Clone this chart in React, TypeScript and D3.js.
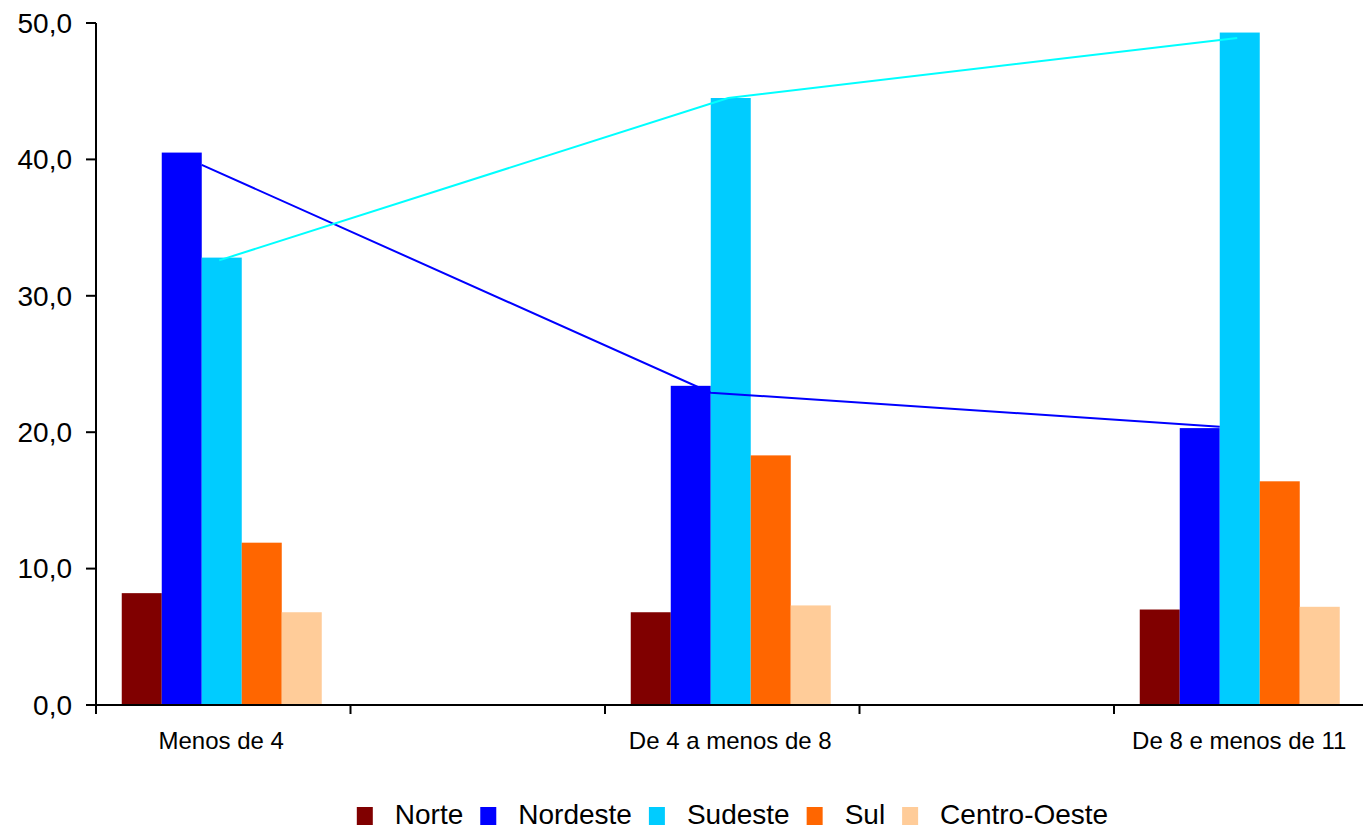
import React, { useEffect, useRef } from "react";
import * as d3 from "d3";

const categories = ["Menos de 4", "De 4 a menos de 8", "De 8 e menos de 11"];
const seriesNames = ["Norte", "Nordeste", "Sudeste", "Sul", "Centro-Oeste"];
const seriesColors = ["#800000", "#0000FF", "#00CCFF", "#FF6600", "#FFCC99"];
const norte = [8.2, 6.8, 7.0];
const nordeste = [40.5, 23.4, 20.3];
const sudeste = [32.8, 44.5, 49.3];
const sul = [11.9, 18.3, 16.4];
const centroOeste = [6.8, 7.3, 7.2];
const seriesValues = [norte, nordeste, sudeste, sul, centroOeste];
const nordesteLine = [39.6, 22.9, 20.4];
const sudesteLine = [32.6, 44.5, 48.9];
const yTicks = [0, 10, 20, 30, 40, 50];

export default function App() {
  const ref = useRef<SVGSVGElement>(null);
  useEffect(() => {
    const svg = d3.select(ref.current);
    svg.selectAll("*").remove();
    const W = 1363;
    const left = 96, slotW = 254.5, nSlots = 5;
    const y0 = 705, yTop = 23;
    const font = "'Liberation Sans', Arial, sans-serif";

    const x = d3.scaleBand<number>().domain(d3.range(nSlots)).range([left, left + slotW * nSlots]);
    const groupW = 200;
    const pOuter = (slotW / (groupW / seriesNames.length) - seriesNames.length) / 2;
    const xs = d3.scaleBand<string>().domain(seriesNames).range([0, slotW]).paddingInner(0).paddingOuter(pOuter);
    const y = d3.scaleLinear().domain([0, 50]).range([y0, yTop]);
    const slotOf = (i: number) => i * 2;

    // bars
    seriesNames.forEach((s, si) => {
      svg.append("g").selectAll("rect").data(seriesValues[si]).join("rect")
        .attr("x", (_d, i) => (x(slotOf(i)) as number) + (xs(s) as number) - 1.5)
        .attr("y", (d) => y(d))
        .attr("width", xs.bandwidth())
        .attr("height", (d) => y(0) - y(d))
        .attr("fill", seriesColors[si]);
    });

    // lines
    const lineGen = d3.line<[number, number]>().x((d) => d[0]).y((d) => d[1]);
    const nordPts: [number, number][] = nordesteLine.map((v, i) => [
      (x(slotOf(i)) as number) + (xs("Nordeste") as number) + xs.bandwidth() - 1.5, y(v)]);
    const sudPts: [number, number][] = sudesteLine.map((v, i) => [
      (x(slotOf(i)) as number) + (xs("Sudeste") as number) + xs.bandwidth() / 2 - 4, y(v)]);
    svg.append("path").attr("d", lineGen(nordPts)).attr("fill", "none").attr("stroke", "#0000FF").attr("stroke-width", 2);
    svg.append("path").attr("d", lineGen(sudPts)).attr("fill", "none").attr("stroke", "#00FFFF").attr("stroke-width", 2);

    // y axis
    svg.append("line").attr("x1", left).attr("x2", left).attr("y1", yTop).attr("y2", y0 + 8)
      .attr("stroke", "#000").attr("stroke-width", 2);
    const yg = svg.append("g");
    yTicks.forEach((t) => {
      yg.append("line").attr("x1", left - 10).attr("x2", left).attr("y1", y(t)).attr("y2", y(t))
        .attr("stroke", "#000").attr("stroke-width", 2);
      yg.append("text").attr("x", 72).attr("y", y(t)).attr("dy", "0.35em").attr("text-anchor", "end")
        .attr("font-family", font).attr("font-size", 28).attr("fill", "#000")
        .text(d3.format(".1f")(t).replace(".", ","));
    });

    // x axis
    svg.append("line").attr("x1", left).attr("x2", W).attr("y1", y0).attr("y2", y0)
      .attr("stroke", "#000").attr("stroke-width", 2);
    d3.range(nSlots + 1).forEach((k) => {
      const xx = left + k * slotW;
      svg.append("line").attr("x1", xx).attr("x2", xx).attr("y1", y0).attr("y2", y0 + 9)
        .attr("stroke", "#000").attr("stroke-width", 2);
    });
    categories.forEach((c, i) => {
      svg.append("text").attr("x", (x(slotOf(i)) as number) + slotW / 2 - 2).attr("y", 749)
        .attr("text-anchor", "middle").attr("font-family", font).attr("font-size", 24).attr("fill", "#000").text(c);
    });

    // legend
    const lg = svg.append("g");
    let cx = 0;
    seriesNames.forEach((s, si) => {
      lg.append("rect").attr("x", cx).attr("y", 807).attr("width", 16).attr("height", 18).attr("fill", seriesColors[si]);
      const t = lg.append("text").attr("x", cx + 38).attr("y", 824).attr("font-family", font)
        .attr("font-size", 28).attr("fill", "#000").text(s);
      const w = (t.node() as SVGTextElement).getComputedTextLength();
      cx = cx + 38 + w + 17;
    });
    const total = cx - 17;
    lg.attr("transform", `translate(${732.5 - total / 2},0)`);
  }, []);
  return (
    <svg ref={ref} width={1363} height={831} style={{ position: "absolute", left: 0, top: 0, background: "#fff" }} />
  );
}
